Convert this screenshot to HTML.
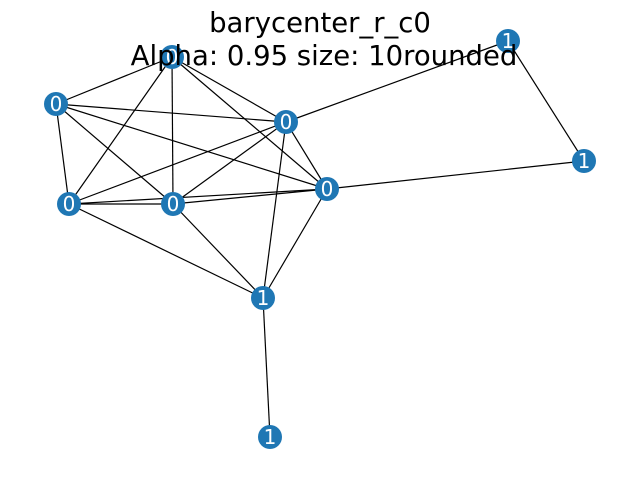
<!DOCTYPE html>
<html><head><style>body{margin:0;background:#fff}</style></head><body>
<svg width="640" height="480" xmlns="http://www.w3.org/2000/svg" font-family="DejaVu Sans, Liberation Sans, sans-serif">
<g stroke="#000" stroke-width="1.2">
<line x1="172" y1="57" x2="56" y2="104"/>
<line x1="172" y1="57" x2="286" y2="122"/>
<line x1="172" y1="57" x2="327" y2="189"/>
<line x1="172" y1="57" x2="69" y2="204"/>
<line x1="172" y1="57" x2="173" y2="204"/>
<line x1="56" y1="104" x2="286" y2="122"/>
<line x1="56" y1="104" x2="327" y2="189"/>
<line x1="56" y1="104" x2="173" y2="204"/>
<line x1="56" y1="104" x2="69" y2="204"/>
<line x1="286" y1="122" x2="69" y2="204"/>
<line x1="286" y1="122" x2="173" y2="204"/>
<line x1="286" y1="122" x2="327" y2="189"/>
<line x1="286" y1="122" x2="263" y2="298"/>
<line x1="286" y1="122" x2="508" y2="41"/>
<line x1="69" y1="204" x2="173" y2="204"/>
<line x1="69" y1="204" x2="327" y2="189"/>
<line x1="69" y1="204" x2="263" y2="298"/>
<line x1="173" y1="204" x2="327" y2="189"/>
<line x1="173" y1="204" x2="263" y2="298"/>
<line x1="327" y1="189" x2="263" y2="298"/>
<line x1="327" y1="189" x2="584" y2="161"/>
<line x1="263" y1="298" x2="270" y2="437"/>
<line x1="508" y1="41" x2="584" y2="161"/>
</g>
<g fill="#1f77b4">
<circle cx="172" cy="57" r="12"/><circle cx="56" cy="104" r="12"/><circle cx="286" cy="122" r="12"/>
<circle cx="69" cy="204" r="12"/><circle cx="173" cy="204" r="12"/><circle cx="327" cy="189" r="12"/>
<circle cx="263" cy="298" r="12"/><circle cx="270" cy="437" r="12"/><circle cx="508" cy="41" r="12"/>
<circle cx="584" cy="161" r="12"/>
</g>
<g fill="#fff" font-size="20" text-anchor="middle" dominant-baseline="central">
<text x="172" y="57">0</text><text x="56" y="104">0</text><text x="286" y="122">0</text>
<text x="69" y="204">0</text><text x="173" y="204">0</text><text x="327" y="189">0</text>
<text x="263" y="298">1</text><text x="270" y="437">1</text><text x="508" y="41">1</text>
<text x="584" y="161">1</text>
</g>
<g font-size="27.5" text-anchor="middle" fill="#000">
<text x="320" y="32">barycenter_r_c0</text>
<text x="324" y="65">Alpha: 0.95 size: 10rounded</text>
</g>
</svg>
</body></html>
